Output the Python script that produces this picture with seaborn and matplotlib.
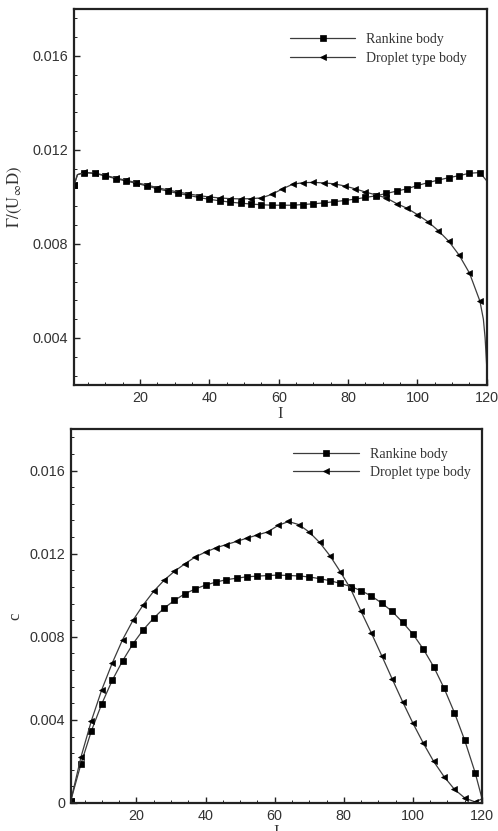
import matplotlib
matplotlib.use("Agg")
import matplotlib.pyplot as plt
from matplotlib.ticker import MultipleLocator, FuncFormatter
import seaborn as sns
import numpy as np

# marker positions (grid index I), every third point
marker_I = [1, 4, 7, 10, 13, 16, 19, 22, 25, 28, 31, 34, 37, 40, 43, 46, 49, 52, 55, 58,
            61, 64, 67, 70, 73, 76, 79, 82, 85, 88, 91, 94, 97, 100, 103, 106, 109, 112, 115, 118]

# top panel: Gamma/(U_inf D)
top_rankine = [0.01050, 0.01104, 0.01100, 0.01090, 0.01078, 0.01068, 0.01058, 0.01047, 0.01035, 0.01025,
               0.01015, 0.01007, 0.00998, 0.00990, 0.00984, 0.00978, 0.00974, 0.00970, 0.00967, 0.00965,
               0.00965, 0.00965, 0.00968, 0.00971, 0.00975, 0.00980, 0.00985, 0.00991, 0.00998, 0.01005,
               0.01015, 0.01025, 0.01035, 0.01049, 0.01061, 0.01072, 0.01082, 0.01091, 0.01101, 0.01104]
top_rankine_extra_I = [2, 120]
top_rankine_extra = [0.01095, 0.01068]

top_droplet = [0.01050, 0.01105, 0.01101, 0.01092, 0.01081, 0.01071, 0.01061, 0.01051, 0.01040, 0.01030,
               0.01021, 0.01013, 0.01006, 0.01000, 0.00996, 0.00993, 0.00992, 0.00993, 0.00996, 0.01011,
               0.01034, 0.01054, 0.01061, 0.01062, 0.01060, 0.01056, 0.01047, 0.01035, 0.01021, 0.01009,
               0.00996, 0.00972, 0.00952, 0.00925, 0.00895, 0.00857, 0.00812, 0.00753, 0.00676, 0.00557]
top_droplet_extra_I = [2, 119, 119.5, 120]
top_droplet_extra = [0.01095, 0.0048, 0.0040, 0.0027]

# bottom panel: c
bot_rankine = [0.00010, 0.00190, 0.00348, 0.00478, 0.00590, 0.00684, 0.00766, 0.00834, 0.00890, 0.00938,
               0.00975, 0.01007, 0.01030, 0.01049, 0.01063, 0.01075, 0.01082, 0.01089, 0.01092, 0.01095,
               0.01097, 0.01095, 0.01093, 0.01088, 0.01080, 0.01070, 0.01057, 0.01042, 0.01022, 0.00996,
               0.00962, 0.00922, 0.00870, 0.00813, 0.00741, 0.00656, 0.00553, 0.00435, 0.00301, 0.00146]
bot_rankine_extra_I = [120]
bot_rankine_extra = [0.0002]

bot_droplet = [0.00010, 0.00223, 0.00397, 0.00546, 0.00673, 0.00786, 0.00879, 0.00954, 0.01019, 0.01072,
               0.01115, 0.01151, 0.01184, 0.01208, 0.01228, 0.01244, 0.01259, 0.01275, 0.01290, 0.01305,
               0.01336, 0.01355, 0.01340, 0.01304, 0.01254, 0.01190, 0.01113, 0.01030, 0.00922, 0.00817,
               0.00708, 0.00597, 0.00488, 0.00384, 0.00288, 0.00200, 0.00127, 0.00066, 0.00024, 0.00005]
bot_droplet_extra_I = [120]
bot_droplet_extra = [0.0002]

sns.set_style("ticks")
plt.rcParams["font.family"] = ["Liberation Sans", "DejaVu Sans"]
plt.rcParams["mathtext.fontset"] = "stix"

SERIF = ["Liberation Serif", "DejaVu Serif"]
LINE_COLOR = "#3c3c3c"


def draw_series(ax, xs, ys, extra_x, extra_y, marker, label):
    x = np.array(list(xs) + list(extra_x), dtype=float)
    y = np.array(list(ys) + list(extra_y), dtype=float)
    order = np.argsort(x)
    x, y = x[order], y[order]
    marks = [i for i, v in enumerate(x) if v in xs]
    sns.lineplot(x=x, y=y, ax=ax, sort=False, color=LINE_COLOR, linewidth=0.9,
                 marker=marker, markevery=marks, markersize=4.2,
                 markerfacecolor="black", markeredgecolor="black", markeredgewidth=0.5,
                 label=label)


def style_axes(ax, ylim, ylabel, label_x, legend_xy):
    ax.set_xlim(1, 120)
    ax.set_ylim(*ylim)
    ax.xaxis.set_major_locator(MultipleLocator(20))
    ax.xaxis.set_minor_locator(MultipleLocator(5))
    ax.yaxis.set_major_locator(MultipleLocator(0.004))
    ax.yaxis.set_minor_locator(MultipleLocator(0.0008))
    ax.yaxis.set_major_formatter(FuncFormatter(lambda v, p: "0" if abs(v) < 1e-12 else f"{v:.3f}"))
    ax.tick_params(which="both", direction="in", top=False, right=False, colors="#222222",
                   labelsize=10.4, labelcolor="#333333")
    ax.tick_params(which="major", length=4.5, width=1.0, pad=4)
    ax.tick_params(which="minor", length=2.2, width=0.7)
    for s in ax.spines.values():
        s.set_linewidth(1.6)
        s.set_color("#222222")
        s.set_visible(True)
    ax.set_xlabel("I", family=SERIF, fontsize=12, color="#333333")
    ax.xaxis.set_label_coords(0.5, -0.056)
    ax.xaxis.label.set_va("top")
    ax.set_ylabel(ylabel, family=SERIF, fontsize=12, color="#333333")
    ax.yaxis.set_label_coords(label_x, 0.5)
    leg = ax.legend(loc="upper left", bbox_to_anchor=legend_xy, frameon=False,
                    handlelength=4.7, handletextpad=0.8, labelspacing=0.4,
                    borderpad=0, borderaxespad=0, prop={"family": SERIF, "size": 10})
    for t in leg.get_texts():
        t.set_color("#333333")


fig = plt.figure(figsize=(4.98, 8.31), dpi=100)
ax1 = fig.add_axes([0.1486, 0.5367, 0.829, 0.4525])
ax2 = fig.add_axes([0.142, 0.0337, 0.826, 0.450])

draw_series(ax1, marker_I, top_rankine, top_rankine_extra_I, top_rankine_extra, "s", "Rankine body")
draw_series(ax1, marker_I, top_droplet, top_droplet_extra_I, top_droplet_extra, "<", "Droplet type body")
style_axes(ax1, (0.002, 0.018), r"$\mathrm{\Gamma/(U_{\infty}D)}$", -0.12, (0.523, 0.936))

draw_series(ax2, marker_I, bot_rankine, bot_rankine_extra_I, bot_rankine_extra, "s", "Rankine body")
draw_series(ax2, marker_I, bot_droplet, bot_droplet_extra_I, bot_droplet_extra, "<", "Droplet type body")
style_axes(ax2, (0.0, 0.018), "c", -0.115, (0.541, 0.950))

fig.savefig("out.png", dpi=100)
